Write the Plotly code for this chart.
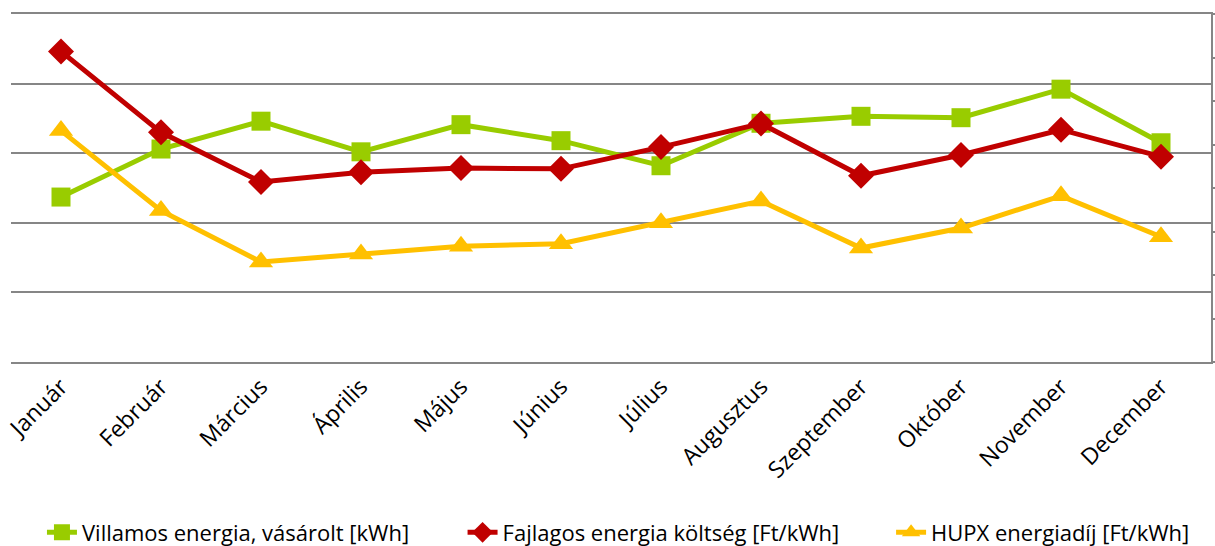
import plotly.graph_objects as go

months = ["Január", "Február", "Március", "Április", "Május", "Június",
          "Július", "Augusztus", "Szeptember", "Október", "November", "December"]

villamos_kwh = [23700, 30600, 34600, 30200, 34100, 31800, 28200, 34300, 35300, 35100, 39200, 31500]
fajlagos_ft_kwh = [35.7, 26.4, 20.7, 21.8, 22.3, 22.2, 24.7, 27.4, 21.4, 23.8, 26.7, 23.6]
hupx_ft_kwh = [26.6, 17.4, 11.5, 12.4, 13.3, 13.6, 16.0, 18.5, 13.1, 15.4, 19.1, 14.4]

names = ["Villamos energia, vásárolt [kWh]", "Fajlagos energia költség [Ft/kWh]", "HUPX energiadíj [Ft/kWh]"]

GREEN = "#99CC00"
RED = "#C00000"
YELLOW = "#FFC000"
GRID = "#868686"
FONT = "Open Sans"

fig = go.Figure()
fig.add_trace(go.Scatter(x=months, y=villamos_kwh, name=names[0], mode="lines+markers",
                         line=dict(color=GREEN, width=5),
                         marker=dict(symbol="square", size=19, color=GREEN),
                         legend="legend"))
fig.add_trace(go.Scatter(x=months, y=fajlagos_ft_kwh, name=names[1], mode="lines+markers",
                         line=dict(color=RED, width=5),
                         marker=dict(symbol="diamond", size=20, color=RED),
                         yaxis="y2", legend="legend2"))
fig.add_trace(go.Scatter(x=months, y=hupx_ft_kwh, name=names[2], mode="lines+markers",
                         line=dict(color=YELLOW, width=5),
                         marker=dict(symbol="triangle-up", size=21, color=YELLOW),
                         yaxis="y2", legend="legend3"))

leg_common = dict(orientation="h", yanchor="middle", y=-0.49, xanchor="left",
                  font=dict(family=FONT, size=22, color="#000000"),
                  bgcolor="rgba(0,0,0,0)")

fig.update_layout(
    width=1215, height=546,
    margin=dict(l=11, r=4, t=14, b=184, autoexpand=False),
    paper_bgcolor="white", plot_bgcolor="white",
    font=dict(family=FONT, size=22, color="#000000"),
    showlegend=True,
    legend=dict(**leg_common, x=0.0258),
    legend2=dict(**leg_common, x=0.3763),
    legend3=dict(**leg_common, x=0.7334),
    xaxis=dict(type="category", range=[-0.5, 11.5], tickangle=-45,
               showgrid=False, ticks="", zeroline=False, automargin=False,
               showline=True, mirror=True, linecolor=GRID, linewidth=2,
               tickfont=dict(family=FONT, size=23)),
    yaxis=dict(range=[0, 50000], dtick=10000, showticklabels=False,
               showgrid=True, gridcolor=GRID, gridwidth=2, automargin=False,
               zeroline=True, zerolinecolor=GRID, zerolinewidth=2,
               showline=False, ticks=""),
    yaxis2=dict(range=[0, 40], dtick=5, overlaying="y", side="right",
                showticklabels=False, showgrid=False, zeroline=False, automargin=False,
                showline=True, linecolor=GRID, linewidth=2,
                ticks="outside", ticklen=4, tickcolor=GRID, tickwidth=1.5),
)

fig.write_html("out.html", config={"displayModeBar": False},
               post_script="document.body.style.margin='0';document.body.style.overflow='hidden';")
